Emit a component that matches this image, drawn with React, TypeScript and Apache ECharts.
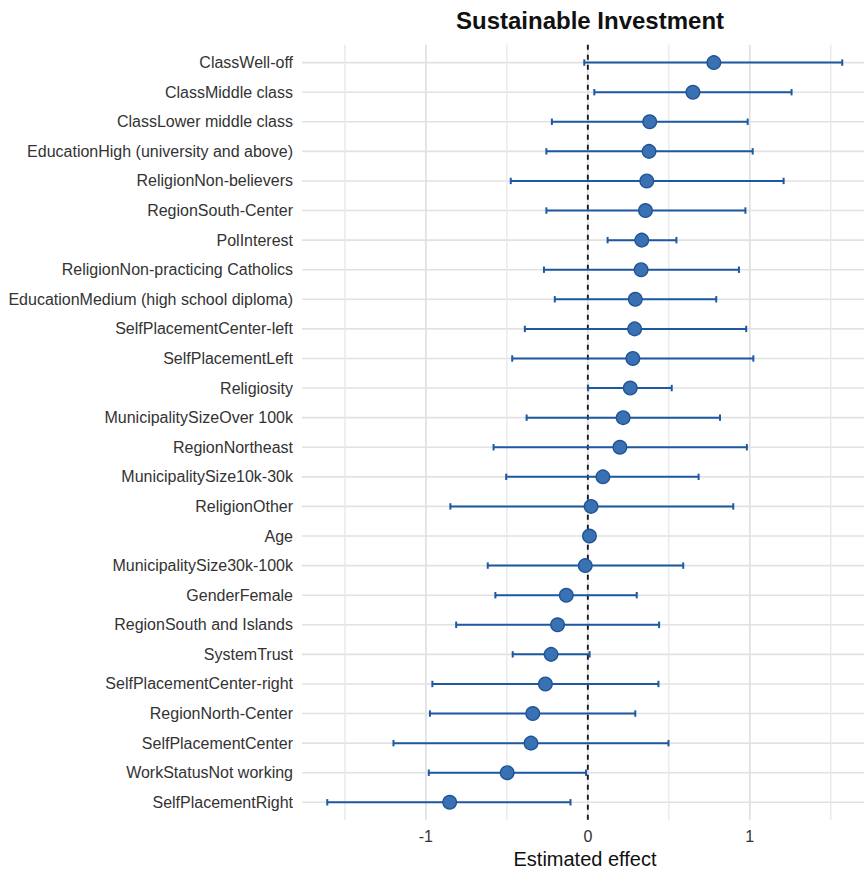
import React, { useEffect, useRef } from "react";
import * as echarts from "echarts";

// Model terms, top to bottom
const terms = [
  "ClassWell-off",
  "ClassMiddle class",
  "ClassLower middle class",
  "EducationHigh (university and above)",
  "ReligionNon-believers",
  "RegionSouth-Center",
  "PolInterest",
  "ReligionNon-practicing Catholics",
  "EducationMedium (high school diploma)",
  "SelfPlacementCenter-left",
  "SelfPlacementLeft",
  "Religiosity",
  "MunicipalitySizeOver 100k",
  "RegionNortheast",
  "MunicipalitySize10k-30k",
  "ReligionOther",
  "Age",
  "MunicipalitySize30k-100k",
  "GenderFemale",
  "RegionSouth and Islands",
  "SystemTrust",
  "SelfPlacementCenter-right",
  "RegionNorth-Center",
  "SelfPlacementCenter",
  "WorkStatusNot working",
  "SelfPlacementRight",
];

const estimates = [
  0.778, 0.649, 0.382, 0.378, 0.364, 0.356, 0.333, 0.329, 0.293, 0.289, 0.278,
  0.262, 0.218, 0.198, 0.093, 0.02, 0.01, -0.016, -0.133, -0.187, -0.227,
  -0.262, -0.34, -0.351, -0.498, -0.853,
];

const lowerCI = [
  -0.022, 0.04, -0.222, -0.256, -0.476, -0.256, 0.122, -0.271, -0.204, -0.389,
  -0.467, 0.002, -0.378, -0.582, -0.504, -0.849, 0.002, -0.618, -0.571, -0.813,
  -0.464, -0.96, -0.975, -1.2, -0.982, -1.609,
];

const upperCI = [
  1.571, 1.258, 0.987, 1.018, 1.209, 0.973, 0.547, 0.933, 0.793, 0.978, 1.022,
  0.518, 0.816, 0.982, 0.684, 0.898, 0.018, 0.589, 0.302, 0.44, 0.011, 0.436,
  0.293, 0.498, -0.011, -0.107,
];

const xMajorBreaks = [-1, 0, 1];
const xMinorBreaks = [-1.5, -0.5, 0.5, 1.5];
const xLimits = [-1.765, 1.73];

const FONT = "'Liberation Sans', Arial, Helvetica, sans-serif";
const BAR_COLOR = "#1d58a1";
const POINT_FILL = "#3a71b3";
const POINT_EDGE = "#1d5598";

export default function App() {
  const ref = useRef<HTMLDivElement>(null);

  useEffect(() => {
    if (!ref.current) return;
    const chart = echarts.init(ref.current, null, { renderer: "svg" });

    // Discrete axis padding: gridlines extend 0.1 band beyond the category bands
    const bandExt = (api: any) => api.size([0, 1])[1] * 0.1;

    const option: any = {
      animation: false,
      backgroundColor: "#ffffff",
      title: {
        text: "Sustainable Investment",
        left: 585,
        top: 3,
        textAlign: "center",
        textStyle: {
          fontFamily: FONT,
          fontSize: 24,
          fontWeight: "bold",
          color: "#111111",
        },
      },
      grid: {
        left: 302,
        right: 0,
        top: 47.8,
        bottom: 50.5,
        containLabel: false,
      },
      xAxis: {
        type: "value",
        min: xLimits[0],
        max: xLimits[1],
        splitNumber: 7,
        axisLine: { show: false },
        axisTick: { show: false },
        splitLine: { show: false },
        axisLabel: {
          fontFamily: FONT,
          fontSize: 16,
          color: "#333333",
          margin: 11,
          showMinLabel: false,
          showMaxLabel: false,
          formatter: (v: number) =>
            xMajorBreaks.some((b) => Math.abs(b - v) < 1e-9) ? String(Math.round(v)) : "",
        },
        name: "Estimated effect",
        nameLocation: "middle",
        nameGap: 29,
        nameTextStyle: {
          fontFamily: FONT,
          fontSize: 20,
          color: "#111111",
        },
      },
      yAxis: {
        type: "category",
        data: terms,
        inverse: true,
        boundaryGap: true,
        axisLine: { show: false },
        axisTick: { show: false },
        splitLine: { show: false },
        axisLabel: {
          fontFamily: FONT,
          fontSize: 16,
          color: "#333333",
          margin: 9,
          interval: 0,
        },
      },
      series: [
        {
          name: "rowGrid",
          type: "custom",
          silent: true,
          z: 0,
          data: terms.map((_, i) => [0, i]),
          encode: { x: 0, y: 1 },
          renderItem: (params: any, api: any) => {
            const cs = params.coordSys;
            const y = api.coord([0, api.value(1)])[1];
            return {
              type: "line",
              shape: { x1: cs.x, y1: y, x2: cs.x + cs.width, y2: y },
              style: { stroke: "#e2e2e2", lineWidth: 1.6 },
            };
          },
        },
        {
          name: "colGrid",
          type: "custom",
          silent: true,
          z: 0,
          data: [
            ...xMinorBreaks.map((v) => [v, 0, 0]),
            ...xMajorBreaks.map((v) => [v, 0, 1]),
          ],
          encode: { x: 0, y: 1 },
          renderItem: (params: any, api: any) => {
            const cs = params.coordSys;
            const x = api.coord([api.value(0), 0])[0];
            const ext = bandExt(api);
            const major = api.value(2) === 1;
            return {
              type: "line",
              shape: { x1: x, y1: cs.y - ext, x2: x, y2: cs.y + cs.height + ext },
              style: {
                stroke: major ? "#e0e0e0" : "#e9e9e9",
                lineWidth: major ? 1.7 : 1.4,
              },
            };
          },
        },
        {
          name: "zeroLine",
          type: "custom",
          silent: true,
          z: 1,
          data: [[0, 0]],
          encode: { x: 0, y: 1 },
          renderItem: (params: any, api: any) => {
            const cs = params.coordSys;
            const x = api.coord([api.value(0), 0])[0];
            const ext = bandExt(api);
            return {
              type: "line",
              shape: { x1: x, y1: cs.y - ext, x2: x, y2: cs.y + cs.height + ext },
              style: { stroke: "#1a1a1a", lineWidth: 1.9, lineDash: [5, 5] },
            };
          },
        },
        {
          name: "interval",
          type: "custom",
          silent: true,
          z: 2,
          data: terms.map((_, i) => [lowerCI[i], upperCI[i], i]),
          encode: { x: [0, 1], y: 2 },
          renderItem: (params: any, api: any) => {
            const lo = api.coord([api.value(0), api.value(2)]);
            const hi = api.coord([api.value(1), api.value(2)]);
            const cap = 3.2;
            const style = { stroke: BAR_COLOR, lineWidth: 2 };
            return {
              type: "group",
              children: [
                {
                  type: "line",
                  shape: { x1: lo[0], y1: lo[1], x2: hi[0], y2: hi[1] },
                  style,
                },
                {
                  type: "line",
                  shape: { x1: lo[0], y1: lo[1] - cap, x2: lo[0], y2: lo[1] + cap },
                  style,
                },
                {
                  type: "line",
                  shape: { x1: hi[0], y1: hi[1] - cap, x2: hi[0], y2: hi[1] + cap },
                  style,
                },
              ],
            };
          },
        },
        {
          name: "estimate",
          type: "scatter",
          z: 3,
          symbol: "circle",
          symbolSize: 13.5,
          data: estimates.map((e, i) => [e, i]),
          itemStyle: {
            color: POINT_FILL,
            borderColor: POINT_EDGE,
            borderWidth: 1.4,
            opacity: 1,
          },
        },
      ],
    };

    chart.setOption(option);
    return () => chart.dispose();
  }, []);

  return (
    <div
      ref={ref}
      style={{
        position: "fixed",
        left: 0,
        top: 0,
        width: 868,
        height: 874,
        background: "#ffffff",
      }}
    />
  );
}
